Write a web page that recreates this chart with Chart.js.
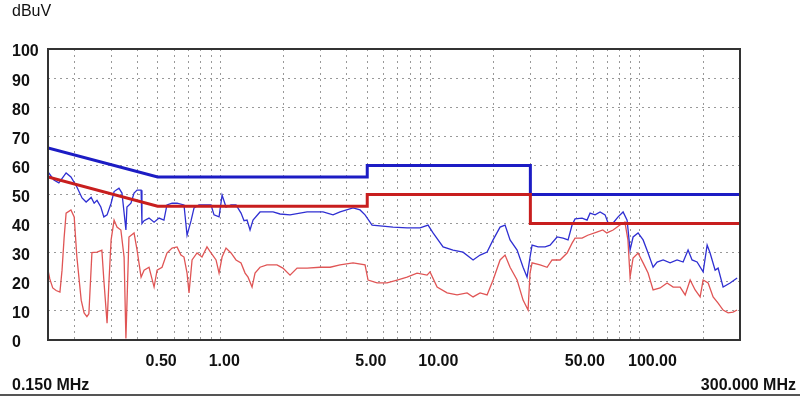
<!DOCTYPE html>
<html>
<head>
<meta charset="utf-8">
<script src="https://cdn.jsdelivr.net/npm/chart.js@4.4.1/dist/chart.umd.min.js"></script>
<style>
  body { margin: 0; background: #fff; }
  canvas { display: block; }
</style>
</head>
<body>
<canvas id="emiChart" width="800" height="396"></canvas>
<script>
// limit lines (class B): quasi-peak and average
const limitFreq = [0.15, 0.5, 5, 5, 30, 30, 300];
const qpLimit = [66, 56, 56, 60, 60, 50, 50];
const avLimit = [56, 46, 46, 50, 50, 40, 40];

// measured quasi-peak trace (blue)
const qpFreq = [0.15, 0.16, 0.169, 0.183, 0.193, 0.206, 0.218, 0.228, 0.241, 0.249, 0.257, 0.268, 0.277, 0.287, 0.300, 0.310, 0.327, 0.338, 0.353, 0.357, 0.373, 0.386, 0.399, 0.417, 0.421, 0.431, 0.455, 0.481, 0.508, 0.536, 0.554, 0.586, 0.619, 0.668, 0.691, 0.722, 0.746, 0.788, 0.832, 0.899, 0.929, 0.982, 1.015, 1.06, 1.12, 1.183, 1.25, 1.292, 1.335, 1.38, 1.426, 1.54, 1.777, 1.919, 2.141, 2.582, 3.077, 3.434, 3.71, 4.278, 4.62, 4.88, 5.272, 5.756, 6.639, 7.743, 8.933, 9.752, 10.3, 11.5, 12.83, 14.32, 15.99, 17.27, 18.65, 19.92, 21.51, 22.72, 24.0, 25.93, 27.69, 28.93, 29.89, 30.57, 32.66, 35.26, 37.25, 40.23, 42.97, 45.39, 47.43, 49.01, 52.94, 55.92, 57.79, 61.08, 64.51, 68.17, 70.44, 74.43, 78.64, 83.07, 86.81, 89.69, 92.71, 97.94, 103.5, 109.3, 115.5, 120.7, 129.0, 139.2, 150.3, 160.6, 169.6, 177.2, 187.2, 200.1, 209.1, 216.0, 228.3, 235.9, 249.2, 269.1, 290.7];
const qpLevel = [57.8, 55, 54, 57.4, 56, 52.6, 48.8, 47.4, 49, 47, 48, 45.7, 42.3, 43, 47, 51, 52.2, 50.5, 37.8, 45.7, 47, 50.5, 51.5, 51.5, 40, 41, 41.9, 40.5, 41.9, 41.2, 46.4, 47, 47, 46.4, 36, 41, 45.4, 46.4, 46.4, 46.4, 43, 42.3, 49.8, 45.7, 46.4, 46.4, 43.6, 41, 41.2, 37.8, 41.2, 44, 44, 43.3, 43, 44, 44, 43, 44, 45.4, 44.7, 43, 39.5, 39.2, 38.8, 38.5, 38.5, 39.5, 36.8, 32, 30.9, 30.2, 27.5, 29.2, 30.2, 34.4, 38.8, 39.5, 34.4, 30.9, 25, 21.6, 28.5, 32.6, 32, 32, 32.6, 35.4, 35, 34.4, 39.5, 41.6, 41.9, 41.2, 43.6, 43, 44, 43, 40.2, 40.2, 42.3, 44, 41.2, 30.9, 35.4, 36.8, 34.4, 29.9, 25, 26.8, 27.5, 26.5, 27.5, 26.8, 30.9, 27.5, 26.8, 23.4, 32.6, 29.9, 24, 24.7, 18.2, 19.6, 21.3];

// measured average trace (red)
const avFreq = [0.150, 0.153, 0.158, 0.164, 0.171, 0.175, 0.179, 0.183, 0.193, 0.200, 0.206, 0.216, 0.223, 0.230, 0.235, 0.243, 0.257, 0.271, 0.277, 0.287, 0.293, 0.300, 0.310, 0.320, 0.334, 0.346, 0.353, 0.365, 0.386, 0.399, 0.417, 0.431, 0.455, 0.481, 0.497, 0.525, 0.554, 0.586, 0.619, 0.646, 0.668, 0.691, 0.706, 0.730, 0.771, 0.814, 0.860, 0.899, 0.950, 0.982, 1.015, 1.060, 1.120, 1.183, 1.250, 1.307, 1.350, 1.411, 1.458, 1.540, 1.661, 1.855, 1.980, 2.141, 2.313, 2.582, 2.978, 3.324, 3.710, 4.278, 4.880, 5.045, 5.570, 6.216, 6.939, 7.743, 8.642, 9.645, 9.963, 10.77, 12.02, 13.41, 14.97, 15.99, 17.27, 18.65, 19.92, 21.51, 22.72, 24.00, 25.93, 27.69, 29.25, 29.89, 30.57, 33.39, 36.05, 38.07, 41.57, 44.91, 47.43, 49.01, 52.94, 56.34, 62.21, 66.48, 69.47, 74.43, 80.21, 84.74, 87.60, 89.69, 92.71, 97.94, 103.5, 109.3, 115.5, 124.8, 134.7, 144.0, 155.4, 164.3, 173.5, 183.3, 193.6, 200.1, 211.4, 223.3, 235.9, 249.2, 263.3, 278.0, 290.7];
const avLevel = [24, 21, 17.9, 17, 16.5, 24, 35, 43.6, 44.7, 42.3, 28.5, 13.7, 9.3, 8, 9, 30, 30.2, 30.9, 20.6, 5.8, 20, 34.4, 41.2, 38.8, 37.8, 28.5, 0.5, 35.4, 36.8, 30.9, 21.6, 24, 25, 18.2, 24, 25, 29.9, 31.6, 32, 29.2, 28.5, 23, 16.2, 27.5, 29.9, 28.5, 32, 29.9, 27.5, 23, 28.5, 31.6, 29.9, 27.5, 26.5, 23, 21.6, 18.2, 23, 25, 25.8, 25.8, 24.7, 22.3, 24.7, 24.7, 25, 25, 25.8, 26.5, 25.8, 20.6, 19.6, 19.6, 20.6, 21.6, 23, 22.3, 23.4, 18.2, 16.2, 15.5, 16.2, 14.8, 16.2, 15.5, 20.6, 27.5, 29.2, 25, 20.6, 13.7, 10.3, 23, 26.5, 25.8, 25, 27.5, 27.5, 29.9, 33.3, 35, 35, 36, 37.1, 37.8, 36.8, 37.8, 39.5, 40.5, 34.4, 21.6, 28.2, 29.9, 26.5, 23, 17.2, 17.9, 19.6, 18.2, 18.2, 15.5, 20.6, 17.2, 14.8, 20.6, 19.6, 14.8, 12.7, 10.3, 9.3, 9.6, 10.3];

// axis ticks
const gridFreq = [0.2, 0.3, 0.4, 0.5, 0.6, 0.7, 0.8, 0.9, 1, 2, 3, 4, 5, 6, 7, 8, 9, 10, 20, 30, 40, 50, 60, 70, 80, 90, 100, 200];
const labeledFreq = [0.5, 1, 5, 10, 50, 100];
const startLabel = '0.150 MHz';
const stopLabel = '300.000 MHz';
const unitLabel = 'dBuV';

const pts = (xs, ys) => xs.map((x, i) => ({ x: x, y: ys[i] }));

const BOLD = { family: '"Liberation Sans", Arial, sans-serif', size: 16, weight: 'bold' };

const framePlugin = {
  id: 'frame',
  afterDraw(chart) {
    const { ctx, chartArea: a } = chart;
    ctx.save();
    ctx.strokeStyle = '#333';
    ctx.lineWidth = 2;
    ctx.strokeRect(a.left, a.top, a.right - a.left, a.bottom - a.top);
    // extra texts
    ctx.fillStyle = '#111';
    ctx.textBaseline = 'middle';
    ctx.font = '16px "Liberation Sans", Arial, sans-serif';
    ctx.textAlign = 'left';
    ctx.fillText(unitLabel, 12, 12);
    ctx.font = 'bold 16px "Liberation Sans", Arial, sans-serif';
    ctx.fillText(startLabel, 12, 386);
    ctx.textAlign = 'right';
    ctx.fillText(stopLabel, 796, 386);
    ctx.strokeStyle = '#555';
    ctx.beginPath();
    ctx.moveTo(0, 395);
    ctx.lineTo(800, 395);
    ctx.stroke();
    ctx.restore();
  }
};

new Chart(document.getElementById('emiChart'), {
  type: 'line',
  data: {
    datasets: [
      { data: pts(limitFreq, avLimit), borderColor: '#c81e1e', borderWidth: 3 },
      { data: pts(limitFreq, qpLimit), borderColor: '#1c1cc4', borderWidth: 3 },
      { data: pts(qpFreq, qpLevel), borderColor: '#2f2fd2', borderWidth: 1.3 },
      { data: pts(avFreq, avLevel), borderColor: '#e05555', borderWidth: 1.3 }
    ]
  },
  options: {
    responsive: false,
    animation: false,
    elements: { point: { radius: 0 }, line: { tension: 0 } },
    layout: { padding: { left: 12, top: 49, right: 60, bottom: 0 } },
    plugins: { legend: { display: false }, tooltip: { enabled: false } },
    scales: {
      x: {
        type: 'logarithmic',
        min: 0.15,
        max: 300,
        afterBuildTicks: (s) => { s.ticks = gridFreq.map(v => ({ value: v })); },
        afterFit: (s) => { s.height = 56; },
        grid: { color: '#999', lineWidth: 1, drawTicks: false },
        border: { display: false, dash: [2, 4] },
        ticks: {
          autoSkip: false,
          maxRotation: 0,
          align: 'start',
          labelOffset: -12,
          padding: 12,
          color: '#111',
          font: BOLD,
          callback: (v) => labeledFreq.includes(v) ? v.toFixed(2) : ''
        }
      },
      y: {
        min: 0,
        max: 100,
        afterFit: (s) => { s.width = 36; },
        grid: { color: '#999', lineWidth: 1, drawTicks: false },
        border: { display: false, dash: [2, 4] },
        ticks: {
          stepSize: 10,
          crossAlign: 'far',
          labelOffset: 3,
          color: '#111',
          font: BOLD
        }
      }
    }
  },
  plugins: [framePlugin]
});
</script>
</body>
</html>
